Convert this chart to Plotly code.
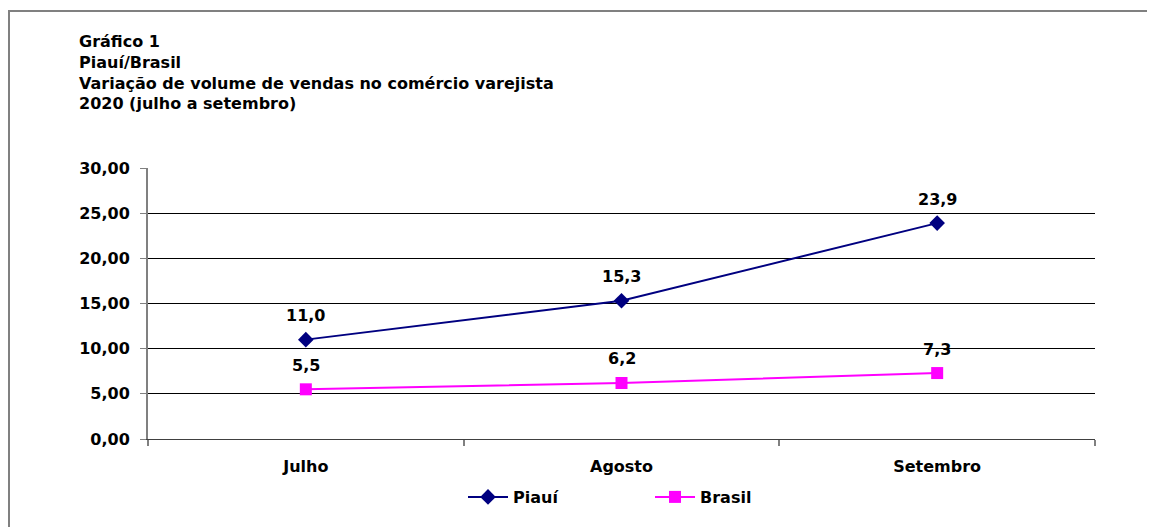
import plotly.graph_objects as go

# ---------------------------------------------------------------------
# Data
# ---------------------------------------------------------------------
months = ["Julho", "Agosto", "Setembro"]
piaui = [11.0, 15.3, 23.9]
brasil = [5.5, 6.2, 7.3]

title_lines = [
    "Gráfico 1",
    "Piauí/Brasil",
    "Variação de volume de vendas no comércio varejista",
    "2020 (julho a setembro)",
]

FONT = "DejaVu Sans, Liberation Sans, Arial, sans-serif"
BOLD16 = dict(family=FONT, size=16, color="black", weight="bold")


def fmt(v):
    return f"{v:.1f}".replace(".", ",")


# plot area in page pixels; the page body adds an 8px offset
W, H = 1155, 527
OFF = 8
L, R, T, B = 148, 1095, 168, 439


def px_x(x):
    return (x - L) / (R - L)


def px_y(y):
    return (B - y) / (B - T)


fig = go.Figure()

fig.add_trace(go.Scatter(
    x=months, y=piaui, name="Piauí",
    mode="lines+markers",
    line=dict(color="#000080", width=2),
    marker=dict(symbol="diamond", size=12, color="#000080"),
))

fig.add_trace(go.Scatter(
    x=months, y=brasil, name="Brasil",
    mode="lines+markers",
    line=dict(color="#FF00FF", width=2),
    marker=dict(symbol="square", size=12, color="#FF00FF"),
))

# data labels above each point
for series in (piaui, brasil):
    for m, v in zip(months, series):
        fig.add_annotation(
            x=m, y=v, text=fmt(v), showarrow=False,
            yshift=24, font=BOLD16,
        )

# Title block, top left
fig.add_annotation(
    xref="paper", yref="paper",
    x=px_x(77), y=px_y(30),
    xanchor="left", yanchor="top", align="left",
    showarrow=False,
    text="<br>".join(title_lines),
    font=BOLD16,
)

# outer grey frame (right and bottom edges fall outside the picture)
fig.add_shape(
    type="rect", xref="paper", yref="paper",
    x0=px_x(9), x1=px_x(W + 20), y0=px_y(H + 20), y1=px_y(11),
    line=dict(color="#808080", width=2),
    layer="below",
)

fig.update_layout(
    width=W, height=H,
    margin=dict(l=L - OFF, r=W - (R - OFF), t=T - OFF, b=H - (B - OFF)),
    paper_bgcolor="white", plot_bgcolor="white",
    separators=",.",
    font=dict(family=FONT, size=16, color="black"),
    showlegend=True,
    legend=dict(
        orientation="h",
        x=px_x(463), y=px_y(497),
        xanchor="left", yanchor="middle",
        font=BOLD16,
        itemwidth=40,
        entrywidth=132,
        traceorder="normal",
    ),
)

fig.update_xaxes(
    type="category",
    range=[-0.5, 2.5],
    showgrid=False,
    showline=True, linecolor="#404040", linewidth=1,
    ticks="outside", tickson="boundaries", ticklen=6,
    tickcolor="#808080", tickwidth=2,
    tickfont=BOLD16,
    ticklabelstandoff=13,
)

fig.update_yaxes(
    range=[0, 30], dtick=5, tickformat=".2f",
    showgrid=True, gridcolor="black", gridwidth=1,
    zeroline=False,
    showline=True, linecolor="#808080", linewidth=2,
    ticks="outside", ticklen=6, tickcolor="#808080", tickwidth=1,
    tickfont=BOLD16,
    ticklabelstandoff=7,
)

fig.write_html("out.html")
